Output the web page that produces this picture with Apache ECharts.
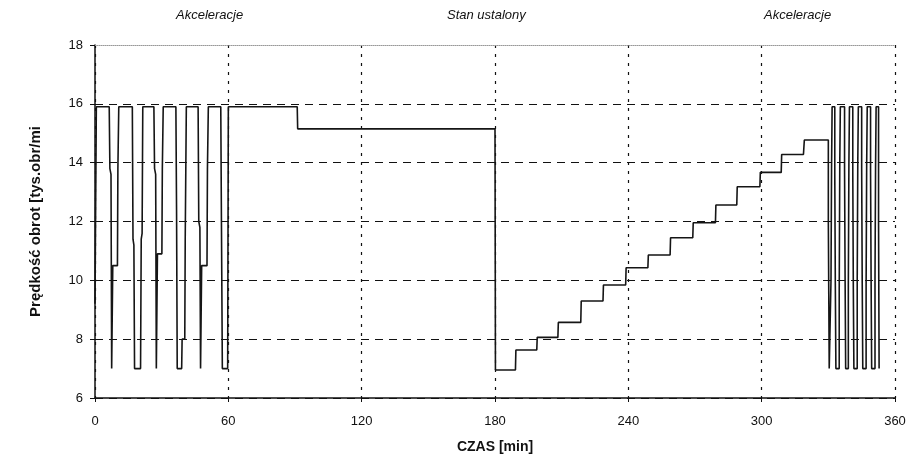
<!DOCTYPE html>
<html>
<head>
<meta charset="utf-8">
<script src="https://cdn.jsdelivr.net/npm/echarts@6/dist/echarts.min.js"></script>
<style>
  html, body { margin: 0; padding: 0; background: #fff; }
  #chart { width: 916px; height: 459px; }
</style>
</head>
<body>
<div id="chart"></div>
<script>
// Time axis [min] and rotor speed [thousand rpm], one entry per recorded point
const czas = [
  0, 0.6, 6.4, 6.7, 7.2, 7.5, 7.8, 8.0, 10.1, 10.3, 10.7,
  16.8, 17.1, 17.5, 17.8, 20.5, 20.8, 21.2, 21.5,
  26.5, 26.8, 27.3, 27.6, 27.9, 28.1, 30.1, 30.3, 30.7,
  36.4, 36.7, 37.0, 39.0, 39.2, 40.4, 40.6, 41.1,
  46.4, 46.7, 47.2, 47.5, 47.8, 48.0, 50.4, 50.6, 51.0,
  56.6, 56.9, 57.3, 59.7, 60.0,
  91.0, 91.2, 180.0, 180.2,
  189.2, 189.4, 198.8, 199.0, 208.3, 208.5, 218.6, 218.8,
  228.6, 228.8, 238.8, 239.0, 248.8, 249.0, 258.8, 259.0,
  269.0, 269.2, 279.2, 279.4, 288.8, 289.0, 299.2, 299.4,
  308.8, 309.0, 318.8, 319.2, 330.0,
  // fast acceleration cycles at the end of the run
  330.0, 330.2, 330.2, 330.4, 330.4, 331.2, 331.2, 331.45, 331.45, 331.7, 331.7, 332.9,
  332.9, 333.15, 333.15, 333.4, 333.4, 334.9, 334.9, 335.15, 335.15, 335.4, 335.4, 337.3,
  337.3, 337.55, 337.55, 337.8, 337.8, 339.0, 339.0, 339.25, 339.25, 339.5, 339.5, 341.0,
  341.0, 341.25, 341.25, 341.5, 341.5, 343.0, 343.0, 343.25, 343.25, 343.5, 343.5, 345.0,
  345.0, 345.25, 345.25, 345.5, 345.5, 347.0, 347.0, 347.25, 347.25, 347.5, 347.5, 349.0,
  349.0, 349.25, 349.25, 349.5, 349.5, 351.0, 351.0, 351.25, 351.25, 351.5, 351.5, 352.6,
  352.6, 352.85, 352.85
];
const predkosc = [
  9.2, 15.9, 15.9, 13.8, 13.6, 7.0, 7.0, 10.5, 10.5, 13.8, 15.9,
  15.9, 11.4, 11.2, 7.0, 7.0, 11.4, 11.6, 15.9,
  15.9, 13.8, 13.6, 7.0, 7.0, 10.9, 10.9, 13.8, 15.9,
  15.9, 12.4, 7.0, 7.0, 8.0, 8.0, 11.4, 15.9,
  15.9, 12.0, 11.8, 7.0, 7.0, 10.5, 10.5, 13.8, 15.9,
  15.9, 12.0, 7.0, 7.0, 15.9,
  15.9, 15.15, 15.15, 6.95,
  6.95, 7.63, 7.63, 8.06, 8.06, 8.57, 8.57, 9.30,
  9.30, 9.84, 9.84, 10.43, 10.43, 10.86, 10.86, 11.45,
  11.45, 11.96, 11.96, 12.56, 12.56, 13.18, 13.18, 13.67,
  13.67, 14.28, 14.28, 14.77, 14.77,
  12.0, 12.0, 9.5, 9.5, 7.0, 7.0, 10.0, 10.0, 13.8, 13.8, 15.9, 15.9,
  13.6, 13.6, 9.8, 9.8, 7.0, 7.0, 9.6, 9.6, 14.0, 14.0, 15.9, 15.9,
  13.8, 13.8, 10.0, 10.0, 7.0, 7.0, 9.8, 9.8, 13.9, 13.9, 15.9, 15.9,
  13.7, 13.7, 9.7, 9.7, 7.0, 7.0, 10.0, 10.0, 14.0, 14.0, 15.9, 15.9,
  13.8, 13.8, 9.9, 9.9, 7.0, 7.0, 9.8, 9.8, 13.9, 13.9, 15.9, 15.9,
  13.7, 13.7, 10.0, 10.0, 7.0, 7.0, 10.0, 10.0, 13.8, 13.8, 15.9, 15.9,
  12.0, 12.0, 7.0
];

// Axis ranges and phase captions
const xTicks = { min: 0, max: 360, step: 60 };
const yTicks = { min: 6, max: 18, step: 2 };
const faza = ['Akceleracje', 'Stan ustalony', 'Akceleracje'];

const FONT = 'Liberation Sans, Arial, sans-serif';
const chart = echarts.init(document.getElementById('chart'));

const punkty = czas.map((t, i) => [t, predkosc[i]]);

chart.setOption({
  animation: false,
  backgroundColor: '#ffffff',
  grid: { left: 95, right: 21, top: 45, bottom: 61 },
  graphic: [
    { type: 'text', left: 176, top: 9,
      style: { text: faza[0], font: 'italic 13px ' + FONT, fill: '#111' } },
    { type: 'text', left: 447, top: 9,
      style: { text: faza[1], font: 'italic 13px ' + FONT, fill: '#111' } },
    { type: 'text', left: 764, top: 9,
      style: { text: faza[2], font: 'italic 13px ' + FONT, fill: '#111' } }
  ],
  xAxis: [{
    type: 'value',
    min: xTicks.min, max: xTicks.max, interval: xTicks.step,
    name: 'CZAS [min]',
    nameLocation: 'middle',
    nameGap: 42,
    nameTextStyle: { fontFamily: FONT, fontSize: 14, fontWeight: 'bold', color: '#111' },
    axisLine: { lineStyle: { color: '#111', width: 1.5 } },
    axisTick: { show: true, length: 4, lineStyle: { color: '#111' } },
    axisLabel: { fontFamily: FONT, fontSize: 13, color: '#111', margin: 17 },
    splitLine: { show: true, lineStyle: { color: '#111', type: [3, 6], width: 1.2 } }
  }, {
    type: 'value', position: 'top',
    min: xTicks.min, max: xTicks.max,
    axisLine: { show: true, lineStyle: { color: '#999', type: [1, 1], width: 1 } },
    axisTick: { show: false }, axisLabel: { show: false }, splitLine: { show: false }
  }],
  yAxis: {
    type: 'value',
    min: yTicks.min, max: yTicks.max, interval: yTicks.step,
    name: 'Prędkość obrot [tys.obr/mi',
    nameLocation: 'middle',
    nameGap: 52,
    nameTextStyle: { fontFamily: FONT, fontSize: 15, fontWeight: 'bold', color: '#111' },
    axisLine: { show: true, lineStyle: { color: '#111', width: 1.5 } },
    axisTick: { show: true, length: 5, lineStyle: { color: '#111' } },
    axisLabel: { fontFamily: FONT, fontSize: 13, color: '#111', margin: 12 },
    splitLine: { show: true, showMaxLine: false,
                 lineStyle: { color: '#111', type: [8, 6], width: 1.2 } }
  },
  series: [{
    type: 'line',
    data: punkty,
    showSymbol: false,
    symbol: 'none',
    lineStyle: { color: '#151515', width: 1.6 },
    z: 5
  }]
});
</script>
</body>
</html>
